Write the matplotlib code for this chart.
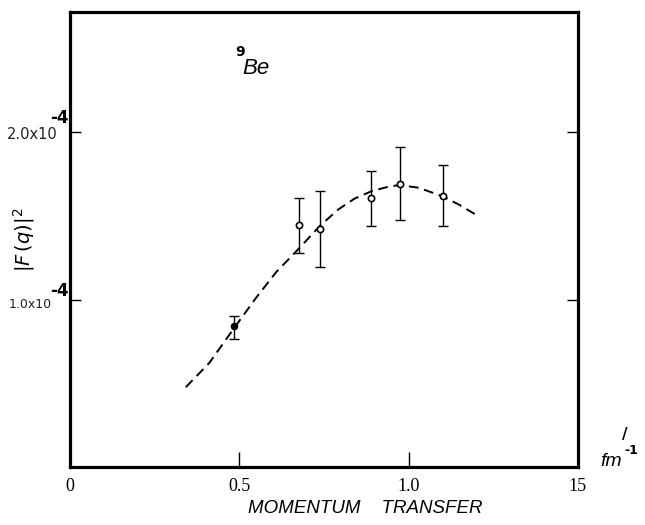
import numpy as np
import matplotlib
matplotlib.use("Agg")
import matplotlib.pyplot as plt

# |F(q)|^2 in units of 1e-4, momentum transfer in fm^-1
q_data = [0.485, 0.676, 0.737, 0.889, 0.975, 1.102]
f2_data = [0.84, 1.445, 1.425, 1.609, 1.689, 1.619]
f2_lo = [0.765, 1.28, 1.193, 1.439, 1.479, 1.439]
f2_hi = [0.904, 1.605, 1.649, 1.768, 1.913, 1.804]

q_curve = [0.342, 0.411, 0.485, 0.549, 0.609, 0.678, 0.737, 0.792, 0.841,
           0.891, 0.945, 0.975, 1.03, 1.099, 1.148, 1.198]
f2_curve = [0.477, 0.621, 0.831, 1.01, 1.165, 1.31, 1.439, 1.539, 1.605,
            1.649, 1.678, 1.685, 1.669, 1.619, 1.569, 1.509]

xticks = [0, 0.5, 1.0, 1.5]
xtick_labels = ["0", "0.5", "1.0", "15"]
yticks = [1.0, 2.0]
ytick_labels = ["1.0x10", "2.0x10"]

fig = plt.figure(figsize=(6.45, 5.25), dpi=100)
ax = fig.add_axes([0.1085, 0.1105, 0.7875, 0.8667])

ax.plot(q_curve, f2_curve, color="black", lw=1.4, ls=(0, (5, 3)))

y = np.array(f2_data)
yerr = [y - np.array(f2_lo), np.array(f2_hi) - y]
ax.errorbar(q_data, f2_data, yerr=yerr, fmt="none", ecolor="black",
            elinewidth=1.0, capsize=3.5, capthick=1.0)
ax.plot(q_data[1:], f2_data[1:], "o", ms=4.5, mfc="white", mec="black", mew=1.2)
ax.plot(q_data[:1], f2_data[:1], "o", ms=4.5, mfc="black", mec="black")

ax.set_xlim(0, 1.5)
ax.set_ylim(0, 2.72)
for s in ax.spines.values():
    s.set_linewidth(2.3)

ax.set_xticks(xticks)
ax.set_xticklabels(xtick_labels, family="Liberation Serif", fontsize=13)
ax.set_yticks(yticks)
ax.set_yticklabels([])
ax.tick_params(axis="x", direction="in", length=11, width=1.0, pad=8)
ax.tick_params(axis="y", direction="in", length=8, width=1.0, right=True)

# tick labels drawn by hand: mantissa text plus a bold exponent
lab_style = [  # (right edge, y shift, size, exponent shift)
    (-0.035, -0.03, 9, 0.05),
    (-0.024, -0.01, 10.5, 0.085),
]
for yv, lab, (xr, dy, fs, ey) in zip(yticks, ytick_labels, lab_style):
    ax.text(xr, yv + dy, lab, transform=ax.get_yaxis_transform(),
            ha="right", va="center", fontsize=fs, family="DejaVu Sans",
            color="#222222")
    ax.text(-0.003, yv + ey, "-4", transform=ax.get_yaxis_transform(),
            ha="right", va="center", fontsize=12, fontweight="bold")

ax.set_ylabel(r"$|F\,(q)|^2$", fontsize=14)
ax.yaxis.set_label_coords(-0.065, 0.5)

ax.text(0.325, 0.912, "9", transform=ax.transAxes, fontsize=10,
        fontweight="bold", ha="left", va="center")
ax.text(0.3386, 0.875, "Be", transform=ax.transAxes, fontsize=16,
        style="italic", family="Liberation Sans", ha="left", va="center")

fig.text(0.566, 0.032, "MOMENTUM    TRANSFER", fontsize=13.5, style="italic",
         family="Liberation Sans", ha="center", va="center")
fig.text(0.93, 0.12, "fm", fontsize=14, style="italic",
         family="Liberation Sans", ha="left", va="center")
fig.text(0.968, 0.142, "-1", fontsize=9, fontweight="bold", ha="left", va="center")
fig.text(0.965, 0.172, "/", fontsize=11, fontweight="bold", ha="left", va="center")

fig.savefig("out.png", dpi=100)
plt.close(fig)
